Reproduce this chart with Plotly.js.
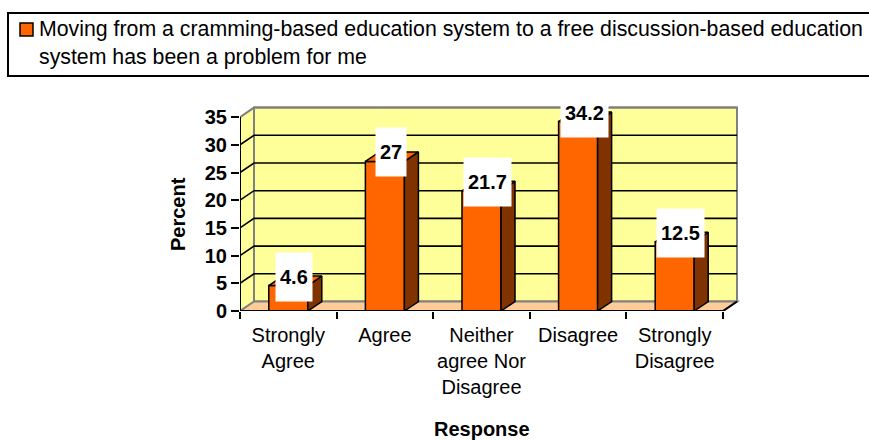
<!DOCTYPE html>
<html>
<head>
<meta charset="utf-8">
<script src="https://cdn.plot.ly/plotly-3.0.1.min.js"></script>
<style>html,body{margin:0;padding:0;background:#fff;}#chart{width:869px;height:440px;}</style>
</head>
<body>
<div id="chart"></div>
<script>
// ---- data ----
const categories = ["Strongly<br>Agree", "Agree", "Neither<br>agree Nor<br>Disagree", "Disagree", "Strongly<br>Disagree"];
const percents = [4.6, 27, 21.7, 34.2, 12.5];
const labels = ["4.6", "27", "21.7", "34.2", "12.5"];
const yTicks = [0, 5, 10, 15, 20, 25, 30, 35];
const seriesName = "Moving from a cramming-based education system to a free discussion-based education<br>system has been a problem for me";
const xTitle = "Response";
const yTitle = "Percent";

// ---- geometry (pseudo 3D) ----
const W = 869, H = 440;
const M = {l: 240, r: 129, t: 104, b: 129};
const plotW = W - M.l - M.r, plotH = H - M.t - M.b;
const pxPerCat = 96.6, pxPerUnit = 5.54;
const xr = [-0.5, -0.5 + plotW / pxPerCat];
const yr = [0, plotH / pxPerUnit];
const dX = 14 / pxPerCat, dY = 9.5 / pxPerUnit;   // depth offset in data units
const barW = 0.404;
const n = categories.length;
const xL = -0.5, xR = n - 0.5, yTop = yTicks[yTicks.length - 1];

const ORANGE = "#FF6600", BROWN = "#803300", WALL = "#FFFF99", FLOOR = "#FFCC99", GRAY = "#808080";
const FONT = "Arial, Liberation Sans, sans-serif";

function path(pts) { return "M" + pts.map(p => p[0] + "," + p[1]).join("L") + "Z"; }
function lpath(pts) { return "M" + pts.map(p => p[0] + "," + p[1]).join("L"); }

const shapes = [];
// side wall
shapes.push({type: "path", layer: "below", xref: "x", yref: "y",
  path: path([[xL, 0], [xL + dX, dY], [xL + dX, yTop + dY], [xL, yTop]]),
  fillcolor: WALL, line: {width: 0}});
// back wall
shapes.push({type: "rect", layer: "below", xref: "x", yref: "y",
  x0: xL + dX, x1: xR + dX, y0: dY, y1: yTop + dY, fillcolor: WALL, line: {color: GRAY, width: 2}});
// floor
shapes.push({type: "path", layer: "below", xref: "x", yref: "y",
  path: path([[xL, 0], [xR, 0], [xR + dX, dY], [xL + dX, dY]]),
  fillcolor: FLOOR, line: {color: GRAY, width: 2}});
// grid lines
yTicks.forEach(v => {
  if (v === 0) return;
  const top = v === yTop;
  shapes.push({type: "path", layer: "below", xref: "x", yref: "y",
    path: lpath([[xL, v], [xL + dX, v + dY], [xR + dX, v + dY]]),
    line: {color: top ? GRAY : "#000", width: top ? 2 : 1.6}});
});
// y axis line & front floor edge
shapes.push({type: "line", layer: "above", xref: "x", yref: "y", x0: xL, x1: xL, y0: 0, y1: yTop, line: {color: "#000", width: 2}});
shapes.push({type: "path", layer: "above", xref: "x", yref: "y",
  path: lpath([[xL, 0], [xR, 0], [xR + dX, dY]]), line: {color: "#000", width: 2}});

// legend frame + key (paper coords from pixels)
const px2x = p => (p - M.l) / plotW;
const py2y = p => (H - M.b - p) / plotH;
shapes.push({type: "rect", xref: "paper", yref: "paper", x0: px2x(8), x1: px2x(885), y0: py2y(76), y1: py2y(13),
  line: {color: "#000", width: 2}, fillcolor: "rgba(0,0,0,0)"});
shapes.push({type: "rect", xref: "paper", yref: "paper", x0: px2x(20), x1: px2x(33), y0: py2y(36), y1: py2y(23),
  line: {color: "#000", width: 1.5}, fillcolor: ORANGE});

const traces = [];
traces.push({type: "bar", x: categories.map((c, i) => i), y: percents, width: barW,
  marker: {color: ORANGE, line: {color: "#000", width: 1.5}}, name: seriesName, showlegend: false, hoverinfo: "skip"});
percents.forEach((v, i) => {
  const x0 = i - barW / 2, x1 = i + barW / 2;
  traces.push({type: "scatter", mode: "lines", fill: "toself", fillcolor: BROWN,
    x: [x1, x1 + dX, x1 + dX, x1, x1], y: [0, dY, v + dY, v, 0],
    line: {color: "#000", width: 1.5}, showlegend: false, hoverinfo: "skip"});
  traces.push({type: "scatter", mode: "lines", fill: "toself", fillcolor: ORANGE,
    x: [x0, x0 + dX, x1 + dX, x1, x0], y: [v, v + dY, v + dY, v, v],
    line: {color: "#000", width: 1.5}, showlegend: false, hoverinfo: "skip"});
});

const annotations = [];
percents.forEach((v, i) => {
  annotations.push({x: i, y: v, xref: "x", yref: "y", text: labels[i], showarrow: false,
    xshift: 6, yshift: 9, yanchor: "middle", bgcolor: "#fff", height: 40, borderpad: 4,
    font: {family: FONT, size: 20, color: "#000", weight: "bold"}});
});
annotations.push({x: (xL + xR) / 2, y: py2y(429), xref: "x", yref: "paper", text: xTitle, showarrow: false,
  yanchor: "middle", font: {family: FONT, size: 20, color: "#000", weight: "bold"}});
annotations.push({x: px2x(178), y: yTop / 2, xref: "paper", yref: "y", text: yTitle, showarrow: false,
  textangle: -90, xanchor: "center", yanchor: "middle", font: {family: FONT, size: 20, color: "#000", weight: "bold"}});
annotations.push({x: px2x(37), y: py2y(43), xref: "paper", yref: "paper", text: seriesName, showarrow: false,
  xanchor: "left", yanchor: "middle", align: "left", font: {family: FONT, size: 21.3, color: "#000"}});

const layout = {
  width: W, height: H, margin: M, paper_bgcolor: "#fff", plot_bgcolor: "rgba(0,0,0,0)",
  showlegend: false, bargap: 0,
  xaxis: {range: xr, showgrid: false, zeroline: false, showline: false, fixedrange: true,
    tickmode: "array", tickvals: categories.map((c, i) => i), ticktext: categories, ticks: "",
    ticklabelstandoff: 10,
    tickfont: {family: FONT, size: 20, color: "#000"},
    minor: {tickmode: "array", tickvals: categories.map((c, i) => i - 0.5).concat([xR]), ticks: "outside", ticklen: 7, tickwidth: 2, tickcolor: "#000", showgrid: false}},
  yaxis: {range: yr, showgrid: false, zeroline: false, showline: false, fixedrange: true,
    tickmode: "array", tickvals: yTicks, ticktext: yTicks.map(String), ticks: "outside", ticklen: 8, tickwidth: 2, tickcolor: "#000",
    tickfont: {family: FONT, size: 20, color: "#000", weight: "bold"}},
  shapes: shapes, annotations: annotations
};
Plotly.newPlot("chart", traces, layout, {staticPlot: true, displayModeBar: false});
</script>
</body>
</html>
